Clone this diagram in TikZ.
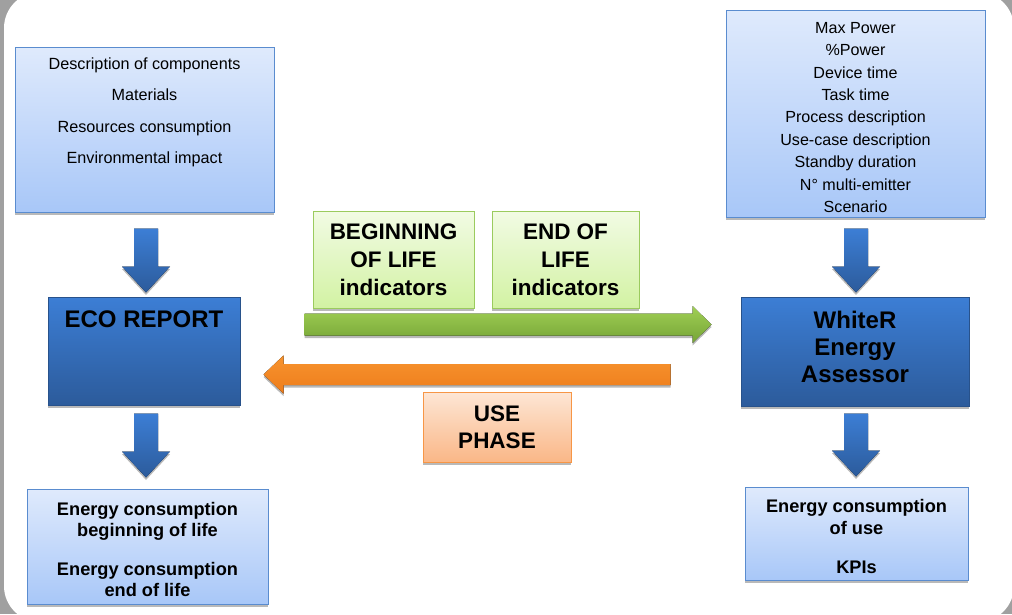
\documentclass[tikz,border=0pt]{standalone}
\usepackage{fontspec}
\setmainfont{Liberation Sans}
\usetikzlibrary{calc,shadows}
\definecolor{framegray}{HTML}{A0A0A0}
\definecolor{lbTop}{HTML}{DFEAFC}
\definecolor{lbBot}{HTML}{A8C7F8}
\definecolor{lbBorder}{HTML}{5A8CCF}
\definecolor{dbTop}{HTML}{3C7ED5}
\definecolor{dbBot}{HTML}{2C5B9B}
\definecolor{gbTop}{HTML}{F2FBE4}
\definecolor{gbBot}{HTML}{D2F2A3}
\definecolor{gbBorder}{HTML}{9BCB5E}
\definecolor{obTop}{HTML}{FDE6D5}
\definecolor{obBot}{HTML}{FAB787}
\definecolor{obBorder}{HTML}{F79646}
\definecolor{gaTop}{HTML}{A0CF55}
\definecolor{gaBot}{HTML}{76A536}
\definecolor{oaTop}{HTML}{F7932E}
\definecolor{oaBot}{HTML}{EE7D1C}
\tikzset{
  shadowed/.style={drop shadow={shadow xshift=0pt, shadow yshift=-2.5pt, fill=black!50, opacity=.55}},
  box/.style={inner sep=0pt, align=center, line width=1pt, shadowed},
  lightbox/.style={box, draw=lbBorder, top color=lbTop, bottom color=lbBot},
  darkbox/.style={box, draw=dbBot!90!black, top color=dbTop, bottom color=dbBot},
  greenbox/.style={box, draw=gbBorder, top color=gbTop, bottom color=gbBot},
  orangebox/.style={box, draw=obBorder, top color=obTop, bottom color=obBot},
  downarrow/.style={top color=dbTop, bottom color=dbBot, shadowed},
  greenarrow/.style={top color=gaTop, bottom color=gaBot, shadowed},
  orangearrow/.style={top color=oaTop, bottom color=oaBot, shadowed},
  txt/.style={align=center, inner sep=0pt},
  bigbold/.style={txt, font=\fontsize{24}{27}\selectfont\bfseries},
  midbold/.style={font=\fontsize{22.5}{28}\selectfont\bfseries},
  outbold/.style={txt, font=\fontsize{18.2}{21}\selectfont\bfseries},
}
\newcommand\blockdown[2]{%
  \fill[downarrow] ($(#1)+(-12,0)$) -- ($(#1)+(12,0)$) -- ($(#2)+(12,-26)$) -- ($(#2)+(24,-26)$) -- (#2) -- ($(#2)+(-24,-26)$) -- ($(#2)+(-12,-26)$) -- cycle;}
\begin{document}
\begin{tikzpicture}[x=1pt,y=-1pt]
\useasboundingbox (0,0) rectangle (1012,614);
\fill[framegray] (0,0) rectangle (1012,614);
\fill[white, rounded corners=36pt] (4,-8) rectangle (1014,622);

% boxes
\node[lightbox, minimum width=259pt, minimum height=165pt] (inL) at (144.5,129.5) {};
\node[txt, font=\fontsize{16.2}{31.3}\selectfont, anchor=north] (inLt) at ($(inL.north)+(0,11)$)
  {Description of components\\Materials\\Resources consumption\\Environmental impact};

\node[lightbox, minimum width=259pt, minimum height=207pt] (inR) at (855.5,113.5) {};
\node[txt, font=\fontsize{16.1}{22.4}\selectfont] (inRt) at ($(inR.center)+(0,4)$)
  {Max Power\\\%Power\\Device time\\Task time\\Process description\\Use-case description\\Standby duration\\N° multi-emitter\\Scenario};

\node[darkbox, minimum width=192pt, minimum height=108pt] (eco) at (144,351) {};
\node[bigbold, anchor=north] (ecot) at ($(eco.north)+(0,14)$) {ECO REPORT};

\node[darkbox, minimum width=228pt, minimum height=109pt] (wea) at (855,351.5) {};
\node[bigbold] (weat) at ($(wea.center)+(0,-4.5)$) {WhiteR\\Energy\\Assessor};

\node[lightbox, minimum width=241pt, minimum height=115pt] (outL) at (147.5,546.5) {};
\node[outbold] (outLt) at ($(outL.center)+(0,3)$)
  {Energy consumption\\beginning of life\\[18pt]Energy consumption\\end of life};

\node[lightbox, minimum width=223pt, minimum height=93pt] (outR) at (856.5,533.5) {};
\node[outbold, font=\fontsize{18.2}{22}\selectfont\bfseries] (outRt) at ($(outR.center)+(0,3)$)
  {Energy consumption\\of use\\[17pt]KPIs};

\node[greenbox, midbold, minimum width=161pt, minimum height=97pt] (bol) at (393.5,259.5) {BEGINNING\\OF LIFE\\indicators};
\node[greenbox, midbold, minimum width=147pt, minimum height=97pt] (eol) at (565.5,259.5) {END OF\\LIFE\\indicators};
\node[orangebox, font=\fontsize{22.5}{27}\selectfont\bfseries, minimum width=148pt, minimum height=70pt] (use) at (497,427) {USE\\PHASE};

% down arrows
\coordinate (dl1s) at ($(inL.south)+(1.5,16)$);
\coordinate (dl1e) at ($(eco.north)+(2,-4)$);
\coordinate (dl2s) at ($(eco.south)+(2,8)$);
\coordinate (dl2e) at ($(outL.north)+(-1.5,-11)$);
\coordinate (dr1s) at ($(inR.south)+(0.5,11)$);
\coordinate (dr1e) at ($(wea.north)+(1,-4)$);
\coordinate (dr2s) at ($(wea.south)+(1,7)$);
\coordinate (dr2e) at ($(outR.north)+(-0.5,-10)$);
\blockdown{dl1s}{dl1e}
\blockdown{dl2s}{dl2e}
\blockdown{dr1s}{dr1e}
\blockdown{dr2s}{dr2e}

% green arrow (eco -> wea)
\coordinate (gs) at ($(eco.east)+(64,-26.5)$);
\coordinate (gt) at ($(wea.west)+(-29,-27)$);
\fill[greenarrow] ($(gs)+(0,-11)$) -- ($(gt)+(-19,-11)$) -- ($(gt)+(-19,-18.5)$) -- (gt) -- ($(gt)+(-19,18.5)$) -- ($(gt)+(-19,11)$) -- ($(gs)+(0,11)$) -- cycle;

% orange arrow (wea -> eco)
\coordinate (os) at ($(wea.west)+(-70,23)$);
\coordinate (ot) at ($(eco.east)+(23,23.5)$);
\fill[orangearrow] ($(os)+(0,-10.5)$) -- ($(ot)+(20,-10.5)$) -- ($(ot)+(20,-19)$) -- (ot) -- ($(ot)+(20,19)$) -- ($(ot)+(20,10.5)$) -- ($(os)+(0,10.5)$) -- cycle;
\end{tikzpicture}
\end{document}
